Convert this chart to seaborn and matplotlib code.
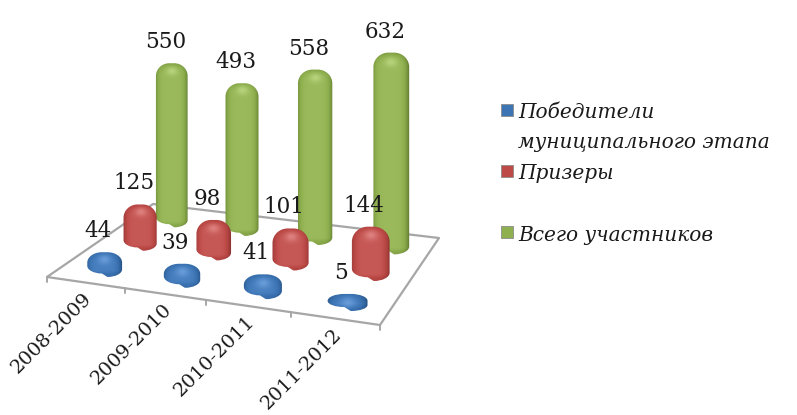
import numpy as np
import pandas as pd
import matplotlib.pyplot as plt
import seaborn as sns
from matplotlib.path import Path
from matplotlib.patches import PathPatch

periods = ['2008-2009', '2009-2010', '2010-2011', '2011-2012']
winners = [44, 39, 41, 5]
prizes = [125, 98, 101, 144]
total = [550, 493, 558, 632]
series_names = ['Победители\nмуниципального этапа', 'Призеры', 'Всего участников']

# dark, mid, light for each series
blues = ['#1f4a7a', '#3c74b4', '#6b9fdc']
reds = ['#7f2b2a', '#bd4a47', '#e08583']
greens = ['#59722a', '#8fb04f', '#bad680']

sns.set_theme(style='white')
plt.rcParams['font.family'] = 'DejaVu Serif'

fig, ax = plt.subplots(figsize=(7.97, 4.15), dpi=100)
ax.set_position([0, 0, 1, 1])

# floor of the 3d box on screen: front left, front right, back right, back left
floor_x = [47, 380, 439, 153]
floor_y = [277, 325, 238, 204]
unit = [(0, 0), (1, 0), (1, 1), (0, 1)]
rows, rhs = [], []
for (a, b), fx, fy in zip(unit, floor_x, floor_y):
    rows.append([a, b, 1, 0, 0, 0, -a * fx, -b * fx])
    rows.append([0, 0, 0, a, b, 1, -a * fy, -b * fy])
    rhs += [fx, fy]
hom = np.append(np.linalg.solve(np.array(rows, float), np.array(rhs, float)), 1).reshape(3, 3)


def project(cat, depth):
    # cat in 0..4 along the front edge, depth in 0..3 towards the back
    p = hom @ np.array([cat / 4, depth / 3, 1.0])
    return p[0] / p[2], p[1] / p[2]


def bar_path(cx, top, bottom, w):
    l, r = cx - w / 2, cx + w / 2
    hgt = bottom - top
    rx = w * 0.42
    ry_top = min(w * 0.40, hgt * 0.45)
    ry_bot = min(w * 0.22, hgt * 0.40)
    tilt = w * 0.05
    k = 0.55
    verts = [
        (l, top + ry_top),
        (l, top + ry_top * (1 - k)), (l + rx * (1 - k), top), (l + rx, top),
        (r - rx, top),
        (r - rx * (1 - k), top), (r, top + ry_top * (1 - k)), (r, top + ry_top),
        (r, bottom - ry_bot + tilt),
        (r, bottom - ry_bot * (1 - k) + tilt), (r - rx * (1 - k), bottom + tilt), (r - rx, bottom + tilt),
        (l + rx, bottom - tilt),
        (l + rx * (1 - k), bottom - tilt), (l, bottom - ry_bot * (1 - k) - tilt), (l, bottom - ry_bot - tilt),
        (l, top + ry_top),
    ]
    codes = [Path.MOVETO] + [Path.CURVE4] * 3 + [Path.LINETO] + [Path.CURVE4] * 3 + [Path.LINETO] \
        + [Path.CURVE4] * 3 + [Path.LINETO] + [Path.CURVE4] * 3 + [Path.CLOSEPOLY]
    return Path(verts, codes)


def draw_bar(cx, top, bottom, w, colors):
    # shaded cylinder: an image clipped to the rounded outline
    cmap = sns.blend_palette(colors, as_cmap=True)
    l, r = cx - w / 2, cx + w / 2
    xs = np.linspace(-1, 1, 60)
    ys = np.linspace(top - 2, bottom + 4, 120)
    nx, py = np.meshgrid(xs, ys)
    shade = 0.62 - 0.62 * (np.abs(nx + 0.05) / 1.05) ** 4.5
    dome = np.clip((top + w * 0.38 - py) / (w * 0.38), 0, 1)
    shade = shade - 0.25 * dome ** 2
    shade = shade + 0.38 * np.exp(-(nx / 0.35) ** 2 - ((py - top - w * 0.22) / (w * 0.14)) ** 2)
    lip = np.clip((py - bottom + w * 0.12) / (w * 0.12), 0, 1)
    shade = shade - 0.2 * lip
    im = ax.imshow(np.clip(shade, 0, 1), cmap=cmap, vmin=0, vmax=1, extent=[l - 1, r + 1, bottom + 4, top - 2],
                   aspect='auto', interpolation='bilinear', zorder=3)
    patch = PathPatch(bar_path(cx, top, bottom, w), facecolor='none', edgecolor='none', transform=ax.transData, zorder=3)
    ax.add_patch(patch)
    im.set_clip_path(patch)


# floor outline and category ticks
sns.lineplot(x=floor_x + floor_x[:1], y=floor_y + floor_y[:1], sort=False, estimator=None,
             color='#a6a6a6', linewidth=1.6, ax=ax, zorder=1)
for i in range(len(periods) + 1):
    fx, fy = project(i, 0)
    ax.plot([fx, fx], [fy, fy + 5], color='#a6a6a6', lw=1.4, zorder=1)

# bars go back to front so the nearer ones cover the farther ones
series = [(winners, blues, 0.205), (prizes, reds, 0.245), (total, greens, 0.27)]
labels = []
for s in [2, 1, 0]:
    values, colors, scale = series[s]
    for i, v in enumerate(values):
        cx, cy = project(i + 0.5, s + 0.5)
        x0, _ = project(i, s + 0.5)
        x1, _ = project(i + 1, s + 0.5)
        w = (x1 - x0) * 0.46
        top = cy - 7 - v * scale * (1 + 0.03 * i)
        draw_bar(cx, top, cy + 7, w, colors)
        labels.append((cx - 6.5, top - 21, v))

for lx, ly, v in labels:
    ax.text(lx, ly, str(v), ha='center', va='center', fontsize=15.5, color='#1a1a1a', zorder=5)

# category labels
for i, name in enumerate(periods):
    fx, fy = project(i + 0.5, 0)
    ax.text(fx + 4, fy + 13, name, rotation=45, rotation_mode='anchor', ha='right', va='center',
            fontsize=14, color='#1a1a1a', zorder=5)

# legend drawn by hand, the entries are not evenly spaced
legend_df = pd.DataFrame({'x': [507, 507, 507], 'y': [110, 171, 232], 'name': series_names})
sns.scatterplot(data=legend_df, x='x', y='y', hue='name', palette=[blues[1], reds[1], greens[1]], marker='s',
                s=75, linewidth=0.6, edgecolor='#8c8c8c', legend=False, ax=ax, zorder=4)
ax.text(518, 112, 'Победители', style='italic', fontsize=14.5, va='center', color='#1a1a1a')
ax.text(518, 142, 'муниципального этапа', style='italic', fontsize=14.5, va='center', color='#1a1a1a')
ax.text(518, 173, series_names[1], style='italic', fontsize=14.5, va='center', color='#1a1a1a')
ax.text(518, 235, series_names[2], style='italic', fontsize=14.5, va='center', color='#1a1a1a')

ax.set_xlim(0, 797)
ax.set_ylim(415, 0)
ax.set_xlabel('')
ax.set_ylabel('')
ax.axis('off')

fig.savefig('out.png', dpi=100)
